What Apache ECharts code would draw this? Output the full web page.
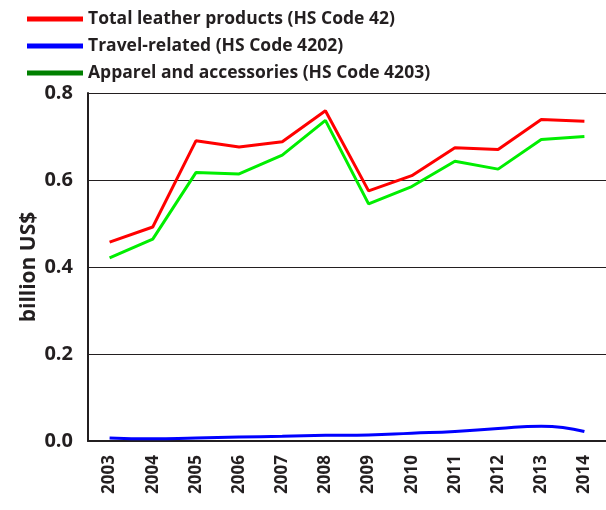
<!DOCTYPE html>
<html>
<head>
<meta charset="utf-8">
<script src="https://cdn.jsdelivr.net/npm/echarts@6/dist/echarts.min.js"></script>
<style>
  html, body { margin: 0; padding: 0; background: #fff; }
  #chart { width: 606px; height: 510px; }
</style>
</head>
<body>
<div id="chart"></div>
<script>
// years on the x axis
const years = ['2003', '2004', '2005', '2006', '2007', '2008', '2009', '2010', '2011', '2012', '2013', '2014']
// billion US$
const totalLeather = [0.457, 0.492, 0.690, 0.676, 0.688, 0.759, 0.575, 0.610, 0.674, 0.670, 0.739, 0.735]
const travelRelated = [0.007, 0.005, 0.007, 0.009, 0.011, 0.013, 0.014, 0.018, 0.022, 0.029, 0.034, 0.022]
const apparel = [0.421, 0.464, 0.617, 0.614, 0.657, 0.737, 0.545, 0.585, 0.643, 0.625, 0.693, 0.700]

const font = '"Open Sans", "Liberation Sans", sans-serif'
const chart = echarts.init(document.getElementById('chart'))

const option = {
  animation: false,
  textStyle: { fontFamily: font },
  legend: {
    orient: 'vertical',
    left: 22,
    top: 5,
    itemGap: 9,
    itemWidth: 56,
    itemHeight: 5,
    icon: 'rect',
    textStyle: { fontFamily: font, fontSize: 17.5, fontWeight: 'bold', color: '#231f20' },
    data: [
      { name: 'Total leather products (HS Code 42)', itemStyle: { color: '#ff0000' } },
      { name: 'Travel-related (HS Code 4202)', itemStyle: { color: '#0000ff' } },
      { name: 'Apparel and accessories (HS Code 4203)', itemStyle: { color: '#008000' } }
    ]
  },
  grid: { left: 88, top: 93, width: 537, bottom: 69, containLabel: false },
  xAxis: {
    type: 'category',
    data: years,
    boundaryGap: true,
    axisLine: { lineStyle: { color: '#231f20', width: 2 } },
    axisTick: { show: false },
    axisLabel: {
      rotate: 90,
      margin: 14,
      fontFamily: font,
      fontSize: 17,
      fontWeight: 'bold',
      color: '#231f20'
    }
  },
  yAxis: {
    type: 'value',
    min: 0,
    max: 0.8,
    interval: 0.2,
    name: 'billion US$',
    nameLocation: 'middle',
    nameGap: 48,
    nameMoveOverlap: false,
    nameTextStyle: { fontFamily: font, fontSize: 21, fontWeight: 'bold', color: '#231f20' },
    axisLine: { show: true, lineStyle: { color: '#231f20', width: 2 } },
    axisTick: { show: false },
    splitLine: { lineStyle: { color: '#231f20', width: 1 } },
    axisLabel: {
      margin: 15,
      fontFamily: font,
      fontSize: 20,
      fontWeight: 'bold',
      color: '#231f20',
      formatter: v => v.toFixed(1)
    }
  },
  series: [
    {
      name: 'Total leather products (HS Code 42)',
      type: 'line',
      data: totalLeather,
      showSymbol: false,
      lineStyle: { color: '#ff0000', width: 3 },
      itemStyle: { color: '#ff0000' }
    },
    {
      name: 'Travel-related (HS Code 4202)',
      type: 'line',
      data: travelRelated,
      smooth: true,
      showSymbol: false,
      lineStyle: { color: '#0000ff', width: 3 },
      itemStyle: { color: '#0000ff' }
    },
    {
      name: 'Apparel and accessories (HS Code 4203)',
      type: 'line',
      data: apparel,
      showSymbol: false,
      lineStyle: { color: '#00ee00', width: 3 },
      itemStyle: { color: '#00ee00' }
    }
  ]
}

chart.setOption(option)
</script>
</body>
</html>
